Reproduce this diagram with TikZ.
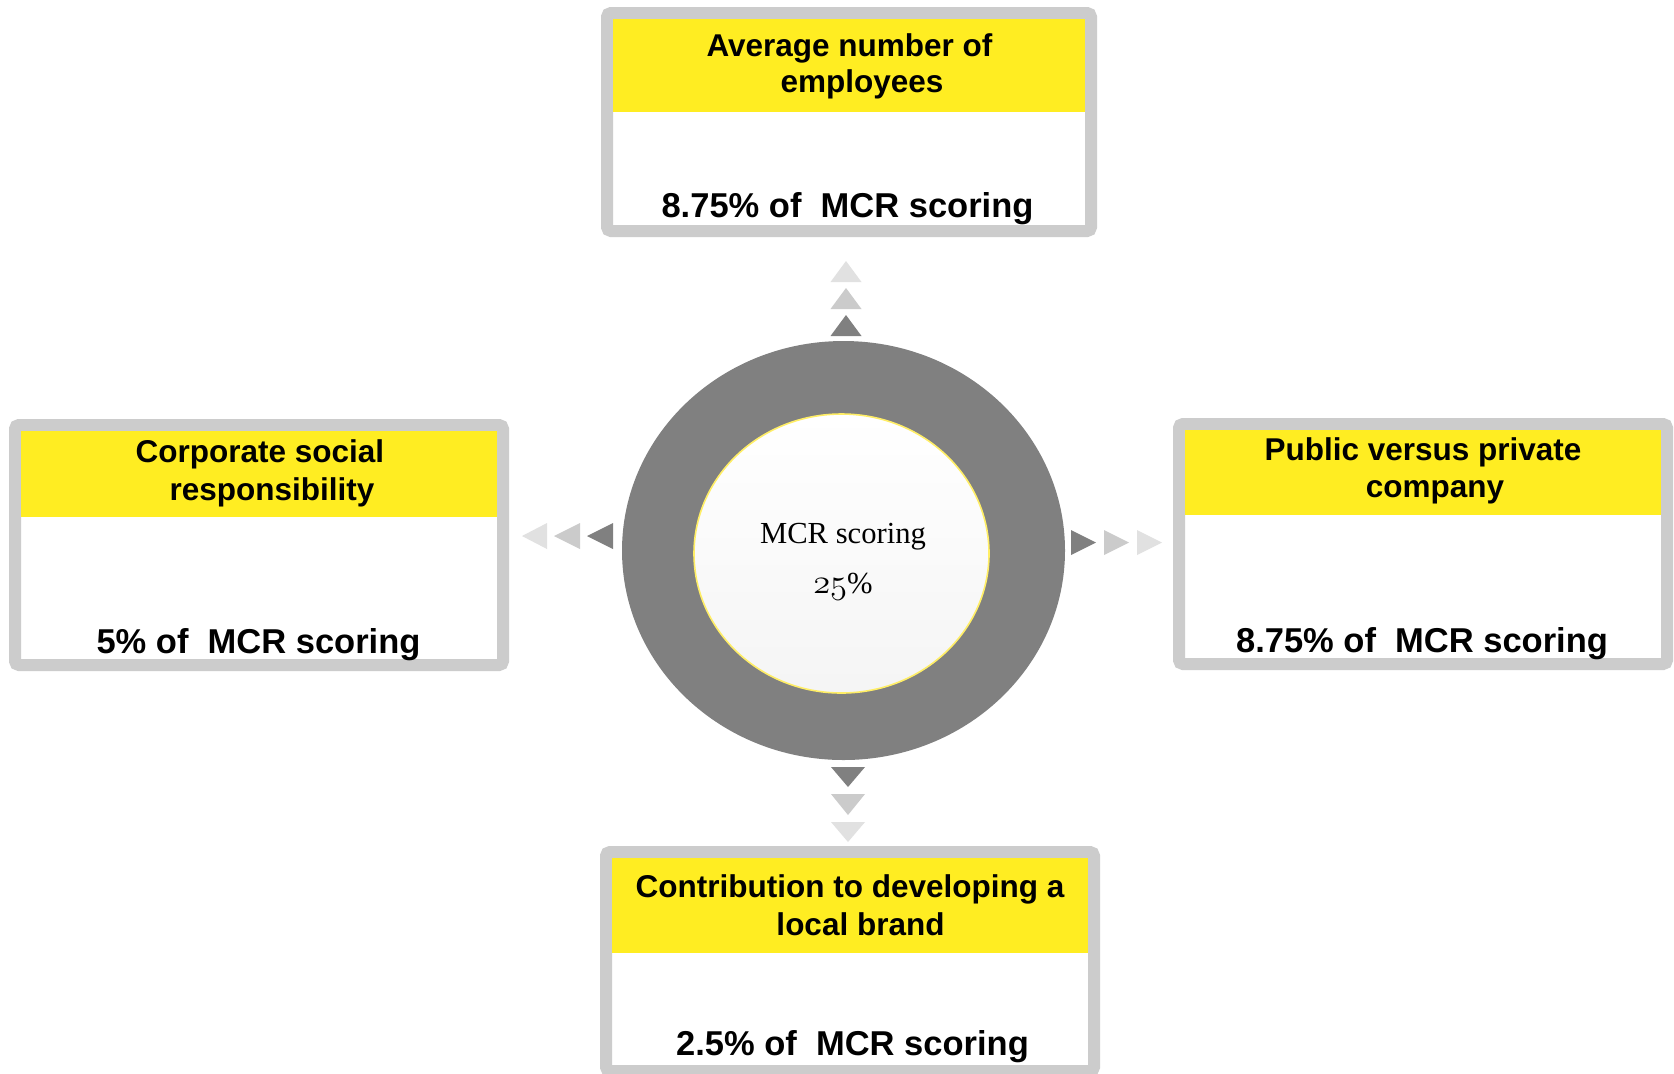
\documentclass[tikz,border=0pt]{standalone}
\usepackage{fontspec}
\newfontfamily\arialf{Liberation Sans}
\newfontfamily\timesf{Liberation Serif}
\usetikzlibrary{shapes.geometric,shadows}
\definecolor{ybar}{HTML}{FFED22}
\definecolor{bord}{HTML}{CCCCCC}
\definecolor{ringc}{HTML}{808080}
\definecolor{triA}{HTML}{808080}
\definecolor{triB}{HTML}{CBCBCB}
\definecolor{triC}{HTML}{E1E1E1}
\definecolor{cborder}{HTML}{FFEE66}
\begin{document}
\begin{tikzpicture}[x=0.5pt,y=-0.5pt,
  frame/.style={draw=bord, line width=6pt, fill=white, rounded corners=2pt, inner sep=0pt, minimum width=244pt},
  titletext/.style={font=\arialf\bfseries\fontsize{15.75}{18}\selectfont, anchor=base, inner sep=0pt},
  scoretext/.style={font=\arialf\bfseries\fontsize{17.25}{20}\selectfont, anchor=base, inner sep=0pt},
  centertext/.style={font=\timesf\fontsize{15.3}{17}\selectfont, anchor=base, inner sep=0pt},
  header/.style={fill=ybar}
]
\useasboundingbox[fill=white] (0,0) rectangle (1674,1073);

% ---- boxes ----
\node[frame, minimum width=242pt, minimum height=109pt] (topbox) at (849,122) {};
\fill[header] (613,19) rectangle (1085,112);
\node[frame, minimum height=120pt] (leftbox) at (259,545) {};
\fill[header] (21,431) rectangle (497,517);
\node[frame, minimum height=120pt] (rightbox) at (1423,544) {};
\fill[header] (1185,430) rectangle (1661,515);
\node[frame, minimum height=109.5pt] (botbox) at (850,961.5) {};
\fill[header] (612,858) rectangle (1088,953);

% ---- texts ----
\node[titletext] (t1a) at (849.5,56) {Average number of};
\node[titletext] (t1b) at (862,92) {employees};
\node[scoretext] (s1) at (847.5,217) {8.75\% of\ \ MCR scoring};

\node[titletext] (t2a) at (260,462) {Corporate social};
\node[titletext] (t2b) at (272,500) {responsibility};
\node[scoretext] (s2) at (258.5,653) {5\% of\ \ MCR scoring};

\node[titletext] (t3a) at (1423,460) {Public versus private};
\node[titletext] (t3b) at (1435,497) {company};
\node[scoretext] (s3) at (1422,652) {8.75\% of\ \ MCR scoring};

\node[titletext] (t4a) at (850,897) {Contribution to developing a};
\node[titletext] (t4b) at (860.5,935) {local brand};
\node[scoretext] (s4) at (852.5,1055) {2.5\% of\ \ MCR scoring};

% ---- central rings ----
\node[ellipse, fill=ringc, minimum width=221.5pt, minimum height=209.5pt, inner sep=0pt] (ring) at (843.5,550.5) {};
\node[ellipse, draw=cborder, line width=0.8pt, top color=white, bottom color=black!4,
      minimum width=147.5pt, minimum height=139.5pt, inner sep=0pt,
      drop shadow={shadow xshift=2.5pt, shadow yshift=-2.5pt, opacity=0.35}] (core) at (841.5,553.5) {};
\node[centertext] (c1) at (843,543) {MCR scoring};
\node[centertext] (c2) at (843,593) {{\fontsize{17.5}{17}\selectfont$\mathnormal{25}$}\%};

% ---- triangles: up ----
\fill[triC] (830.5,282) -- (846,261) -- (861.5,282) -- cycle;
\fill[triB] (830.5,309) -- (846,288) -- (861.5,309) -- cycle;
\fill[triA] (830.5,336) -- (846,315) -- (861.5,336) -- cycle;
% down
\fill[triA] (831,767) -- (848,787) -- (865,767) -- cycle;
\fill[triB] (831,794) -- (848,815) -- (865,794) -- cycle;
\fill[triC] (831,822) -- (848,842) -- (865,822) -- cycle;
% left
\fill[triA] (613,523) -- (587,536) -- (613,549) -- cycle;
\fill[triB] (580,523) -- (554,536) -- (580,549) -- cycle;
\fill[triC] (547,523) -- (522,536) -- (547,549) -- cycle;
% right
\fill[triA] (1071,530) -- (1096,542.5) -- (1071,555) -- cycle;
\fill[triB] (1104,530) -- (1129,542.5) -- (1104,555) -- cycle;
\fill[triC] (1137,530) -- (1162,542.5) -- (1137,555) -- cycle;
\end{tikzpicture}
\end{document}
